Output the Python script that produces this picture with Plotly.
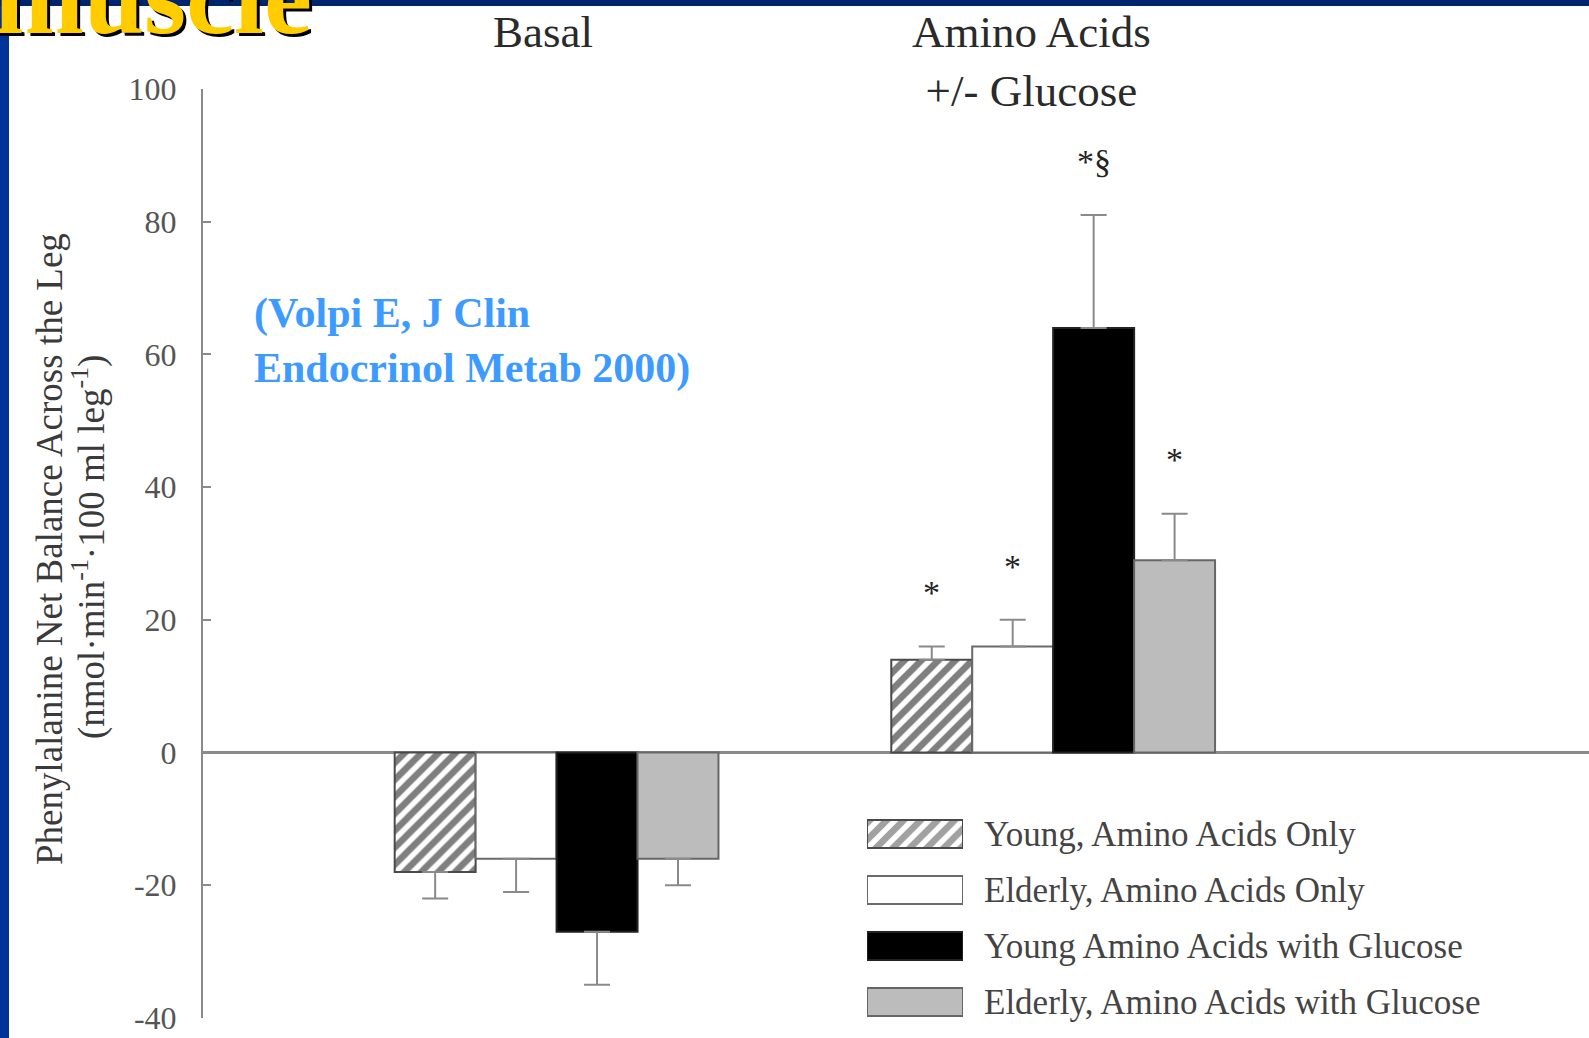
import plotly.graph_objects as go

# ---------------- data ----------------
groups = ["Basal", "Amino Acids<br>+/- Glucose"]
series_names = [
    "Young, Amino Acids Only",
    "Elderly, Amino Acids Only",
    "Young Amino Acids with Glucose",
    "Elderly, Amino Acids with Glucose",
]
young_aa = [-18, 14]
elderly_aa = [-16, 16]
young_aag = [-27, 64]
elderly_aag = [-16, 29]

young_aa_err = [4, 2]
elderly_aa_err = [5, 4]
young_aag_err = [8, 17]
elderly_aag_err = [4, 7]

young_aa_sig = ["", "*"]
elderly_aa_sig = ["", "*"]
young_aag_sig = ["", "*§"]
elderly_aag_sig = ["", "*"]

y_tick_vals = [-40, -20, 0, 20, 40, 60, 80, 100]
y_tick_text = ["-40", "-20", "0", "20", "40", "60", "80", "100"]

y_title_1 = "Phenylalanine Net Balance Across the Leg"
y_title_2 = "(nmol·min<sup>-1</sup>·100 ml leg<sup>-1</sup>)"
citation = "(Volpi E, J Clin<br>Endocrinol Metab 2000)"
slide_title = "muscle"

values = [young_aa, elderly_aa, young_aag, elderly_aag]
errors = [young_aa_err, elderly_aa_err, young_aag_err, elderly_aag_err]
sigs = [young_aa_sig, elderly_aa_sig, young_aag_sig, elderly_aag_sig]

# ---------------- styles ----------------
fills = ["white", "white", "black", "#bcbcbc"]
patterns = ["/", "", "", ""]
outlines = ["#4a4a4a", "#6a6a6a", "#222222", "#666666"]

W, H = 1589, 1038
L, R, T, B = 203, 0, 89, 20
PW, PH = W - L - R, H - T - B


def px(x):
    return (x - L) / PW


def py(y):
    return (H - B - y) / PH


BARGAP = 0.348
n_series = len(series_names)
bw = (1 - BARGAP) / n_series
serif = "Liberation Serif"

fig = go.Figure()

for k, name in enumerate(series_names):
    vals = values[k]
    errs = errors[k]
    plus = [e if v >= 0 else 0 for v, e in zip(vals, errs)]
    minus = [e if v < 0 else 0 for v, e in zip(vals, errs)]
    fig.add_trace(go.Bar(
        x=groups, y=vals, name=name, showlegend=False,
        marker=dict(color=fills[k], line=dict(color=outlines[k], width=2),
                    pattern=dict(shape=patterns[k], fgcolor="#000000",
                                 size=12, solidity=0.55)),
        error_y=dict(type="data", symmetric=False, array=plus, arrayminus=minus,
                     color="#8a8a8a", thickness=2, width=13),
    ))

# legend swatches drawn as a small bar subplot
fig.add_trace(go.Bar(
    y=series_names, x=[1] * n_series, orientation="h",
    xaxis="x2", yaxis="y2", width=0.5, showlegend=False, hoverinfo="skip",
    marker=dict(color=fills, line=dict(color=outlines, width=2),
                pattern=dict(shape=patterns, fgcolor="#000000", size=12, solidity=0.55)),
))

annotations = []
# significance marks
for k in range(n_series):
    for i, g in enumerate(groups):
        s = sigs[k][i]
        if s:
            annotations.append(dict(
                x=i + (k - (n_series - 1) / 2) * bw, xref="x",
                y=values[k][i] + errors[k][i] + 8.4, yref="y",
                xanchor="center", yanchor="middle",
                text=s, showarrow=False, yshift=-2,
                font=dict(family=serif, size=34, color="#222222"),
            ))

# group labels at top
for i, (g, xs) in enumerate(zip(groups, [-14, -22])):
    annotations.append(dict(
        x=i, xref="x", xshift=xs, y=py(5), yref="paper",
        xanchor="center", yanchor="top",
        text=g, showarrow=False, align="center",
        font=dict(family=serif, size=45, color="#2a2a2a"),
    ))

# y-axis title lines
annotations.append(dict(x=px(49), y=py(549), xref="paper", yref="paper",
                        xanchor="center", yanchor="middle",
                        text=y_title_1, textangle=-90, showarrow=False,
                        font=dict(family=serif, size=37, color="#3a3a3a")))
annotations.append(dict(x=px(89), y=py(547), xref="paper", yref="paper",
                        xanchor="center", yanchor="middle",
                        text=y_title_2, textangle=-90, showarrow=False,
                        font=dict(family=serif, size=37, color="#3a3a3a")))

# citation
annotations.append(dict(x=px(252), y=py(288), xref="paper", yref="paper",
                        xanchor="left", yanchor="top", align="left",
                        text="<b>" + citation + "</b>", showarrow=False,
                        font=dict(family=serif, size=42, color="#3d9bff")))

# slide title fragment
annotations.append(dict(x=px(314), y=py(58), xref="paper", yref="paper",
                        xanchor="right", yanchor="bottom",
                        text="<b>" + slide_title + "</b>", showarrow=False,
                        font=dict(family=serif, size=108, color="#ffcc00",
                                  shadow="3px 3px 0px #000000")))

shapes = [
    dict(type="rect", xref="paper", yref="paper", layer="above",
         x0=px(0), x1=px(9), y0=py(H), y1=py(0),
         fillcolor="#00339a", line=dict(width=0)),
    dict(type="rect", xref="paper", yref="paper", layer="above",
         x0=px(0), x1=px(W), y0=py(6), y1=py(0),
         fillcolor="#00256e", line=dict(width=0)),
]

fig.update_layout(
    width=W, height=H,
    margin=dict(l=L, r=R, t=T, b=B, pad=0),
    paper_bgcolor="white", plot_bgcolor="white",
    barmode="group", bargap=BARGAP, bargroupgap=0,
    showlegend=False,
    xaxis=dict(type="category", range=[-0.712, 2.079], showline=False,
               showticklabels=False, ticks="", showgrid=False, zeroline=False,
               fixedrange=True),
    yaxis=dict(range=[-40, 100], tickvals=y_tick_vals, ticktext=y_tick_text,
               showline=True, linecolor="#8a8a8a", linewidth=2,
               ticks="inside", ticklen=8, tickwidth=2, tickcolor="#8a8a8a",
               ticklabelstandoff=18,
               tickfont=dict(family=serif, size=32, color="#555555"),
               showgrid=False, zeroline=True, zerolinecolor="#8a8a8a",
               zerolinewidth=3, fixedrange=True),
    xaxis2=dict(domain=[px(867), px(963)], range=[0, 1], anchor="y2",
                visible=False, fixedrange=True),
    yaxis2=dict(domain=[0, py(806)], type="category",
                categoryorder="array", categoryarray=series_names,
                range=[3.286, -0.5], anchor="x2", side="right",
                showline=False, ticks="", showgrid=False, zeroline=False,
                ticklabelstandoff=20,
                tickfont=dict(family=serif, size=35, color="#444444"),
                fixedrange=True),
    annotations=annotations,
    shapes=shapes,
)

fig.write_html(
    "out.html",
    config={"displayModeBar": False},
    post_script="document.body.style.margin='0px';document.body.style.overflow='hidden';",
)
